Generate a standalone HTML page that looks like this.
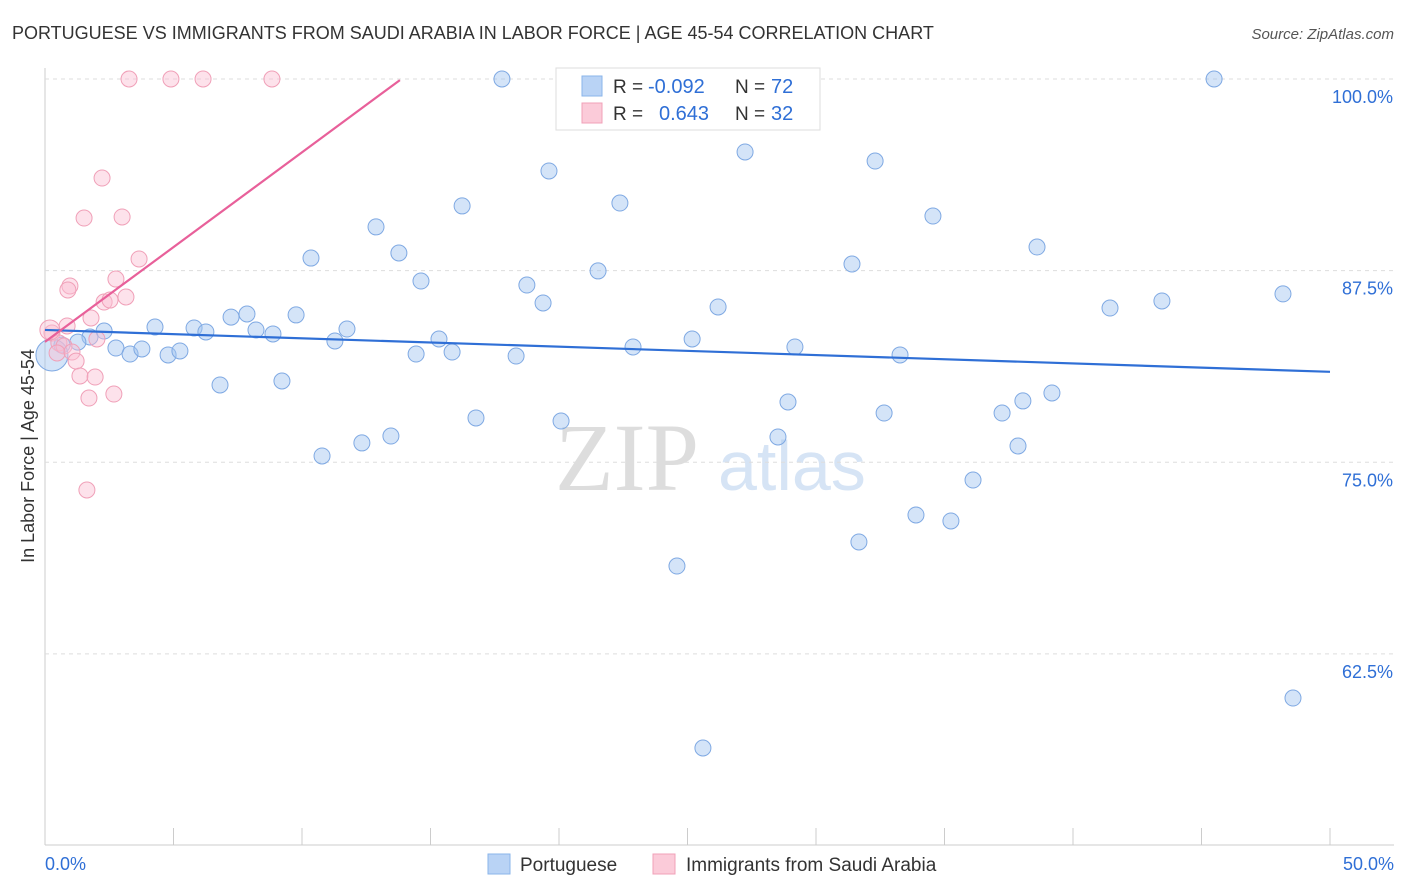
<!DOCTYPE html>
<html><head><meta charset="utf-8"><style>
body{margin:0;background:#fff;font-family:"Liberation Sans",sans-serif;}
#wrap{position:relative;width:1406px;height:892px;overflow:hidden;}
</style></head><body>
<div id="wrap">
<svg id="svg" width="1406" height="892" xmlns="http://www.w3.org/2000/svg">
<text x="12" y="39" font-size="18" fill="#333">PORTUGUESE VS IMMIGRANTS FROM SAUDI ARABIA IN LABOR FORCE | AGE 45-54 CORRELATION CHART</text>
<text x="1394" y="39" font-size="15" fill="#555" font-style="italic" text-anchor="end">Source: ZipAtlas.com</text>
<text x="555" y="490" font-size="96" fill="#ddd" font-family="Liberation Serif,serif">ZIP</text>
<text x="718" y="490" font-size="70" fill="#d6e4f5">atlas</text>
<text transform="translate(34,456) rotate(-90)" font-size="18" fill="#333" text-anchor="middle">In Labor Force | Age 45-54</text>
<g id="grid"></g><g id="marks"></g><g id="lines"></g>
<g>
<rect x="556" y="68" width="264" height="62" fill="#fff" stroke="#ddd"/>
<rect x="582" y="76" width="20" height="20" fill="#b9d3f5" stroke="#8ab4ea"/>
<rect x="582" y="103" width="20" height="20" fill="#fbcbd9" stroke="#f0a0b8"/>
<text x="613" y="93" font-size="19" fill="#333">R =</text>
<text x="648" y="93" font-size="20" fill="#2f6fd6">-0.092</text>
<text x="735" y="93" font-size="19" fill="#333">N =</text>
<text x="771" y="93" font-size="20" fill="#2f6fd6">72</text>
<text x="613" y="120" font-size="19" fill="#333">R =</text>
<text x="659" y="120" font-size="20" fill="#2f6fd6">0.643</text>
<text x="735" y="120" font-size="19" fill="#333">N =</text>
<text x="771" y="120" font-size="20" fill="#2f6fd6">32</text>
</g>
<g>
<rect x="488" y="854" width="22" height="20" fill="#b9d3f5" stroke="#8ab4ea"/>
<text x="520" y="871" font-size="19" fill="#333">Portuguese</text>
<rect x="653" y="854" width="22" height="20" fill="#fbcbd9" stroke="#f0a0b8"/>
<text x="686" y="871" font-size="19" fill="#333">Immigrants from Saudi Arabia</text>
</g>
<text x="45" y="870" font-size="18" fill="#2f6fd6">0.0%</text>
<text x="1394" y="870" font-size="18" fill="#2f6fd6" text-anchor="end">50.0%</text>
</svg>
</div>
<script>
const yTicks=[100,87.5,75,62.5];
const yTickLabels=["100.0%","87.5%","75.0%","62.5%"];
const blueX=[17.78,26.85,45.49,27.24,32.30,19.61,16.23,22.37,34.55,12.88,38.6,10.35,13.77,31.40,21.52,14.63,18.75,19.38,26.19,41.44,43.46,48.17,9.77,7.86,7.24,4.28,5.80,6.26,8.21,8.87,11.75,11.28,15.33,15.84,14.44,18.33,22.88,25.18,29.18,33.27,2.30,1.75,1.28,0.66,2.76,3.31,3.77,4.79,5.25,6.81,9.22,39.18,38.05,37.24,32.65,28.91,16.77,20.08,13.46,12.33,10.78,28.52,37.86,36.11,33.89,35.25,31.67,24.59,25.60,48.56,0.27];
const blueY=[100,100,100,95.24,94.65,94.00,91.72,91.91,91.06,90.35,89.04,88.32,88.65,87.93,87.48,86.82,86.56,85.39,85.13,85.06,85.52,85.98,84.61,84.67,84.47,83.82,83.76,83.50,83.63,83.37,83.69,82.91,83.04,82.19,82.06,81.93,82.52,83.04,82.52,82.00,83.56,83.17,82.84,82.65,82.45,82.06,82.39,82.00,82.26,80.04,80.30,79.52,79.00,78.21,78.21,78.93,77.89,77.69,76.71,76.26,75.41,76.65,76.06,73.84,71.56,71.17,69.80,68.23,56.36,59.62,82.00];
const pinkX=[3.27,4.90,6.15,8.83,20.47,2.22,1.52,3.00,3.66,2.76,0.97,0.89,3.15,2.30,2.53,1.79,0.86,0.27,0.54,0.74,2.02,0.47,1.05,1.21,1.36,1.95,2.68,1.71,1.63,0.19];
const pinkY=[100,100,100,100,100,93.54,90.93,91.0,88.26,86.95,86.50,86.24,85.78,85.45,85.58,84.41,83.89,83.43,82.78,82.58,83.04,82.13,82.19,81.60,80.63,80.56,79.45,79.19,73.19,83.63];
const blueLine=[[0,83.63],[50,80.9]];
const pinkLine=[[0,82.85],[13.81,99.93]];
const NS="http://www.w3.org/2000/svg";
const X=v=>45+v*25.7, Y=v=>79+(100-v)*15.33;
const grid=document.getElementById('grid'),marks=document.getElementById('marks'),lines=document.getElementById('lines');
function el(t,a,p){const e=document.createElementNS(NS,t);for(const k in a)e.setAttribute(k,a[k]);p.appendChild(e);return e;}
let ax=el('line',{x1:45,y1:68,x2:45,y2:845,stroke:'#ccc'},grid);


let bx=el('line',{x1:45,y1:845,x2:1394,y2:845,stroke:'#ccc'},grid);


for(let i=0;i<=10;i++){let t=el('line',{x1:45+i*128.5,y1:828,x2:45+i*128.5,y2:845,stroke:'#ccc'},grid);

}
yTicks.forEach((v,i)=>{let g=el('line',{x1:45,y1:Y(v),x2:1394,y2:Y(v),stroke:'#ddd','stroke-dasharray':'4,4'},grid);


let t=el('text',{x:1393,y:Y(v)+24,'font-size':18,fill:'#2f6fd6','text-anchor':'end'},grid);t.textContent=yTickLabels[i];

});
blueX.forEach((x,i)=>{let c=el('circle',{cx:X(x),cy:Y(blueY[i]),r:i==blueX.length-1?16:8,fill:'rgba(160,195,240,0.45)',stroke:'#7fa9e3','stroke-width':1},marks);

});
pinkX.forEach((x,i)=>{let c=el('circle',{cx:X(x),cy:Y(pinkY[i]),r:i==pinkX.length-1?10:8,fill:'rgba(250,190,210,0.45)',stroke:'#f0a0b8','stroke-width':1},marks);

});
let bl=el('line',{x1:X(blueLine[0][0]),y1:Y(blueLine[0][1]),x2:X(blueLine[1][0]),y2:Y(blueLine[1][1]),stroke:'#2f6fd6','stroke-width':2.2},lines);


let pl=el('line',{x1:X(pinkLine[0][0]),y1:Y(pinkLine[0][1]),x2:X(pinkLine[1][0]),y2:Y(pinkLine[1][1]),stroke:'#e8609a','stroke-width':2.2},lines);


</script>
</body></html>
